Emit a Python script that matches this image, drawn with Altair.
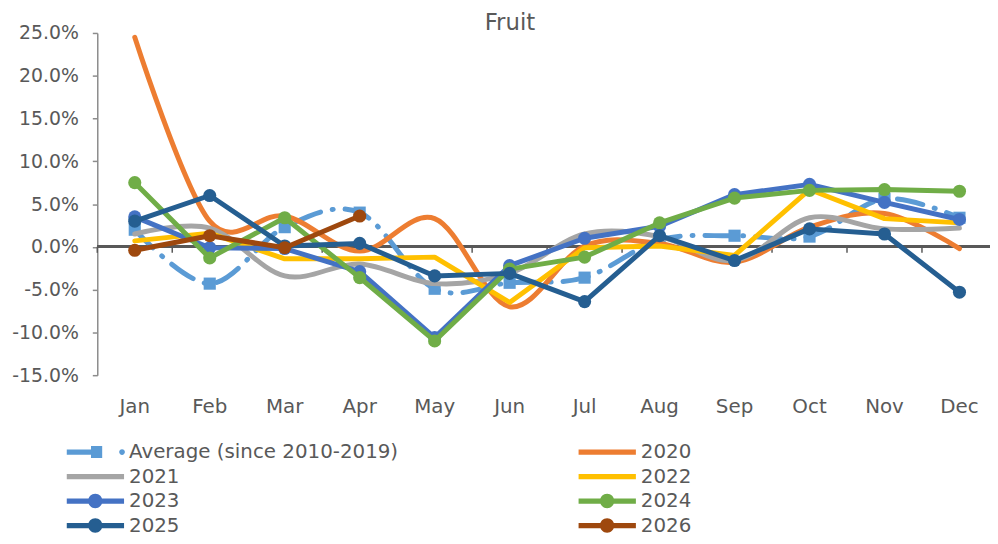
import altair as alt
import pandas as pd

months = ["Jan", "Feb", "Mar", "Apr", "May", "Jun", "Jul", "Aug", "Sep", "Oct", "Nov", "Dec"]
series_names = ["Average (since 2010-2019)", "2020", "2021", "2022", "2023", "2024", "2025", "2026"]
colors = ["#5B9BD5", "#ED7D31", "#A5A5A5", "#FFC000", "#4472C4", "#70AD47", "#255E91", "#9E480E"]

# values in percent
avg_vals = [2.0, -4.3, 2.3, 4.0, -4.9, -4.2, -3.6, 0.8, 1.3, 1.2, 5.6, 3.4]
v2020 = [24.5, 3.0, 3.6, -0.5, 3.3, -7.0, 0.1, 0.4, -1.8, 2.3, 3.9, -0.2]
v2021 = [1.5, 2.2, -3.4, -2.0, -4.3, -3.1, 1.5, 1.2, -1.6, 3.4, 2.1, 2.2]
v2022 = [0.7, 1.6, -1.4, -1.4, -1.2, -6.5, -0.1, 0.1, -1.0, 6.7, 3.3, 2.8]
v2023 = [3.5, -0.1, -0.2, -2.9, -10.6, -2.2, 1.0, 2.4, 6.1, 7.3, 5.2, 3.2]
v2024 = [7.5, -1.3, 3.4, -3.6, -11.0, -2.6, -1.2, 2.8, 5.7, 6.6, 6.7, 6.5]
v2025 = [3.0, 6.0, 0.1, 0.4, -3.4, -3.1, -6.4, 1.3, -1.6, 2.1, 1.5, -5.3]
v2026 = [-0.4, 1.3, -0.1, 3.6]

all_vals = [avg_vals, v2020, v2021, v2022, v2023, v2024, v2025, v2026]
smooth = [True, True, True, False, False, False, False, False]
markers = ["square", None, None, None, "circle", "circle", "circle", "circle"]

rows = []
for name, vals in zip(series_names, all_vals):
    for m, v in zip(months, vals):
        rows.append({"month": m, "series": name, "value": v / 100.0})
df = pd.DataFrame(rows)
month_df = pd.DataFrame({"month": months})

FONT = "DejaVu Sans"
TXT = "#595959"
y_ticks = [-0.15, -0.1, -0.05, 0, 0.05, 0.1, 0.15, 0.2, 0.25]

xscale = alt.Scale(type="band", domain=months, range=[0, 907], paddingInner=0, paddingOuter=0)
yscale = alt.Scale(domain=[-0.15, 0.25], nice=False, zero=False)

label_axis = alt.Axis(title=None, domain=False, ticks=False, grid=False, labelPadding=22,
                      labelFontSize=20, labelColor=TXT, labelAngle=0, labelFont=FONT)
y_axis = alt.Axis(title=None, format=".1%", values=y_ticks,
                  grid=False, tickSize=5, domainColor="#8C8C8C", tickColor="#8C8C8C",
                  domainWidth=1.5, tickWidth=1.5, labelFontSize=19, labelColor=TXT,
                  labelPadding=14, labelFont=FONT)


def xenc(band=0.5):
    return alt.X("month:O", sort=months, scale=xscale, axis=label_axis, bandPosition=band)


def yenc():
    return alt.Y("value:Q", scale=yscale, axis=y_axis)


base = alt.Chart(df)

layers = []
# zero line of the category axis
layers.append(base.mark_rule(color=TXT, strokeWidth=2).encode(y=alt.Y(datum=0, scale=yscale, axis=y_axis)))
# category boundary tick marks hanging below the zero line
layers.append(
    alt.Chart(month_df).mark_rule(color=TXT, strokeWidth=1.5).encode(
        x=xenc(0),
        y=alt.Y(datum=0, scale=yscale, axis=y_axis),
        y2=alt.Y2(datum=-0.007),
    )
)

for name, col, sm, mk in zip(series_names, colors, smooth, markers):
    sub = base.transform_filter(alt.datum.series == name)
    line_kwargs = dict(color=col, strokeWidth=5, strokeCap="round", strokeJoin="round",
                       interpolate="cardinal" if sm else "linear")
    if name.startswith("Average"):
        line_kwargs["strokeDash"] = [26, 12, 1, 12]
    layers.append(sub.mark_line(**line_kwargs).encode(x=xenc(), y=yenc()))
    if mk == "circle":
        layers.append(sub.mark_point(filled=True, opacity=1, color=col, size=175, shape="circle")
                      .encode(x=xenc(), y=yenc()))
    elif mk == "square":
        layers.append(sub.mark_point(filled=True, opacity=1, color=col, size=150, shape="square")
                      .encode(x=xenc(), y=yenc()))

# legend symbols (unit box -1..1 spans 58 px)
LINE = "M-1,-0.09H1V0.09H-1Z"
CIRC = "M-0.25,0A0.25,0.25 0 1,1 0.25,0A0.25,0.25 0 1,1 -0.25,0Z"
AVG = ("M-1,-0.09H0.24V0.09H-1Z M-0.15,-0.21H0.24V0.21H-0.15Z "
       "M0.83,0A0.1,0.1 0 1,1 1.03,0A0.1,0.1 0 1,1 0.83,0Z")
shape_range = [AVG, LINE, LINE, LINE, LINE + " " + CIRC, LINE + " " + CIRC, LINE + " " + CIRC, LINE + " " + CIRC]

legend = alt.Legend(orient="none", legendX=-31, legendY=411.5, columns=2, columnPadding=181,
                    direction="horizontal", clipHeight=22,
                    rowPadding=2.7, symbolSize=3364, labelFontSize=20, labelColor=TXT,
                    labelFont=FONT, labelOffset=5, title=None, symbolStrokeWidth=0,
                    padding=0, labelLimit=0, symbolOpacity=1)
legend_layer = base.transform_filter("false").mark_point(filled=True, opacity=1).encode(
    color=alt.Color("series:N", scale=alt.Scale(domain=series_names, range=colors), legend=legend),
    shape=alt.Shape("series:N", scale=alt.Scale(domain=series_names, range=shape_range), legend=legend),
)
layers.append(legend_layer)

chart = alt.layer(*layers).properties(
    width=900,
    height=345,
    title=alt.TitleParams("Fruit", fontSize=23, font=FONT, color=TXT, fontWeight="normal",
                          anchor="middle", offset=0, baseline="alphabetic", dx=-34, dy=29),
    autosize=alt.AutoSizeParams(type="none"),
    padding={"left": 90, "top": 23, "right": 0, "bottom": 164},
).configure(
    font=FONT,
    locale={"number": {"decimal": ".", "thousands": ",", "grouping": [3],
                       "currency": ["$", ""], "minus": "-"}},
).configure_view(stroke=None)

chart.save("out.html", embed_options={"renderer": "svg", "actions": False})
